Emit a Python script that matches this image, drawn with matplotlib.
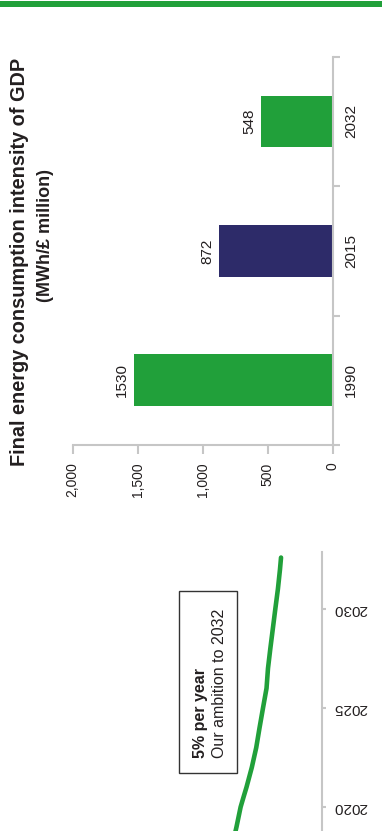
import matplotlib
matplotlib.use('Agg')
import matplotlib.pyplot as plt
from matplotlib.patches import Rectangle

plt.rcParams['font.family'] = ['Liberation Sans', 'DejaVu Sans']

# bar chart data
categories = ['1990', '2015', '2032']
intensity = [1530, 872, 548]
value_ticks = [0, 500, 1000, 1500, 2000]
value_tick_labels = ['0', '500', '1,000', '1,500', '2,000']

# ambition line
line_years = [2018, 2019, 2020, 2020.5, 2021, 2022, 2023, 2024, 2025, 2026,
              2027, 2028, 2029, 2030, 2031, 2032, 2032.6]
line_values = [1118, 1062, 1011, 975, 938, 872, 817, 776, 733, 689,
               671, 642, 611, 580, 548, 522, 509]
year_ticks = [2020, 2025, 2030]

GREEN = '#21a03a'
NAVY = '#2d2b69'
GREY = '#c6c6c6'
INK = '#231f20'

W, H = 382, 831
fig = plt.figure(figsize=(W / 100, H / 100), dpi=100)


def px_axes(left, top, right, bottom):
    return fig.add_axes([left / W, 1 - bottom / H, (right - left) / W, (bottom - top) / H])


# green rule across the top
fig.add_artist(Rectangle((0, 1 - 7 / H), 1, 6 / H, transform=fig.transFigure,
                         color=GREEN, lw=0))

# --- bar chart (drawn sideways) ---
ax = px_axes(72.7, 56.7, 332.7, 445)
bars = ax.barh(range(len(categories)), intensity, height=0.4,
               color=[GREEN, NAVY, GREEN])
ax.set_xlim(2000, 0)
ax.set_ylim(-0.5, 2.5)
for side in ['top', 'left']:
    ax.spines[side].set_visible(False)
for side in ['right', 'bottom']:
    ax.spines[side].set_color(GREY)
    ax.spines[side].set_linewidth(1.5)

ax.set_xticks(value_ticks)
ax.set_xticklabels(value_tick_labels, rotation=90, fontsize=10, color=INK)
ax.tick_params(axis='x', length=6.5, width=1.5, color=GREY, pad=6)

ax.yaxis.tick_right()
ax.set_yticks([-0.5, 0.5, 1.5, 2.5])
ax.set_yticklabels([])
ax.tick_params(axis='y', which='major', length=5, width=1.5, color=GREY)
ax.set_yticks(range(len(categories)), labels=categories, minor=True)
ax.tick_params(axis='y', which='minor', length=0, pad=8, labelsize=11,
               labelcolor=INK)
for lbl in ax.get_yticklabels(minor=True):
    lbl.set_rotation(90)
    lbl.set_va('center')

ax.bar_label(bars, labels=[str(v) for v in intensity], padding=3.5,
             rotation=90, fontsize=11, color=INK)

fig.text(20 / W, 1 - 262 / H, 'Final energy consumption intensity of GDP',
         rotation=90, ha='center', va='center', fontsize=14.3,
         fontweight='bold', color=INK)
fig.text(45 / W, 1 - 235 / H, '(MWh/£ million)', rotation=90,
         ha='center', va='center', fontsize=13, fontweight='bold', color=INK)

# --- ambition line (cut off by the page edge) ---
lax = px_axes(0, 552, 322, 851)
lax.plot(line_values, line_years, color=GREEN, lw=3.3, solid_capstyle='round')
lax.set_xlim(4000, 0)
lax.set_ylim(2017.78, 2032.88)
lax.patch.set_alpha(0)
for side in ['top', 'left', 'bottom']:
    lax.spines[side].set_visible(False)
lax.spines['right'].set_color(GREY)
lax.spines['right'].set_linewidth(1.5)
lax.set_xticks([])
lax.yaxis.tick_right()
lax.set_yticks(year_ticks)
lax.set_yticklabels([str(y) for y in year_ticks], rotation=180, fontsize=11,
                    color=INK, va='center')
lax.tick_params(axis='y', length=3, width=1.5, color=GREY, pad=5)

# annotation box
fig.add_artist(Rectangle((179.3 / W, 1 - 773 / H), (237 - 179.3) / W, (773 - 590.7) / H,
                         transform=fig.transFigure, facecolor='white',
                         edgecolor='#333333', lw=1))
fig.text(200 / W, 1 - 758 / H, '5% per year', rotation=90, ha='center',
         va='bottom', fontsize=11.5, fontweight='bold', color=INK)
fig.text(219 / W, 1 - 758 / H, 'Our ambition to 2032', rotation=90, ha='center',
         va='bottom', fontsize=11.5, color=INK)

fig.savefig('out.png', dpi=100)
